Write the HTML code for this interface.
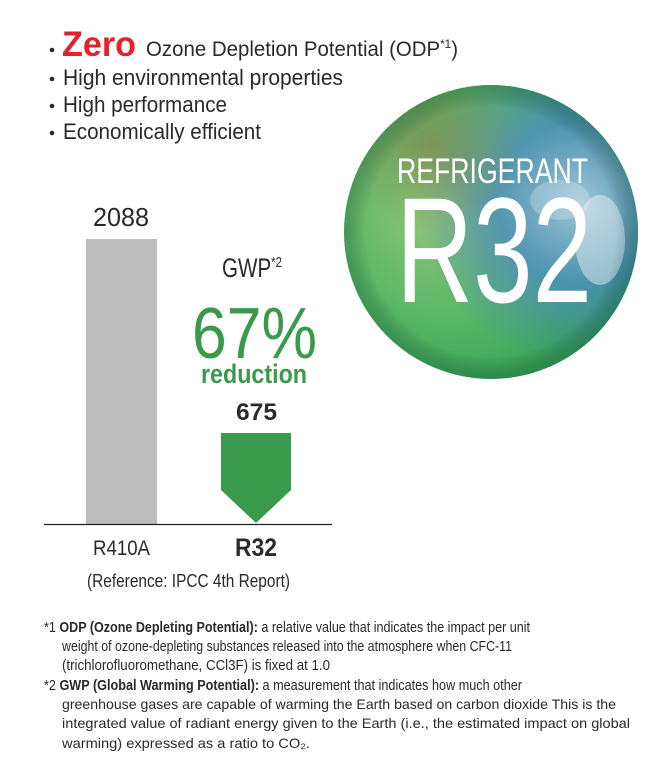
<!DOCTYPE html>
<html><head><meta charset="utf-8"><style>
html,body{margin:0;padding:0;background:#fff;}
svg{display:block}
text{font-family:"Liberation Sans Narrow","Liberation Sans",sans-serif;}
</style></head><body>
<svg width="667" height="772" viewBox="0 0 667 772" xmlns="http://www.w3.org/2000/svg">
<defs>
<radialGradient id="g1" cx="0.35" cy="0.4" r="0.75">
<stop offset="0" stop-color="#9cc87a"/>
<stop offset="0.5" stop-color="#5cb868"/>
<stop offset="1" stop-color="#2a9a50"/>
</radialGradient>
<radialGradient id="g2" cx="0.8" cy="0.4" r="0.55">
<stop offset="0" stop-color="#a8c8e0" stop-opacity="0.95"/>
<stop offset="0.5" stop-color="#4a8cc0" stop-opacity="0.8"/>
<stop offset="1" stop-color="#3a80b8" stop-opacity="0"/>
</radialGradient>
<radialGradient id="g3" cx="0.3" cy="0.2" r="0.3">
<stop offset="0" stop-color="#7a8450" stop-opacity="0.7"/>
<stop offset="1" stop-color="#7a8450" stop-opacity="0"/>
</radialGradient>
<radialGradient id="g4" cx="0.5" cy="0.5" r="0.5">
<stop offset="0.85" stop-color="#000" stop-opacity="0"/>
<stop offset="1" stop-color="#0a5030" stop-opacity="0.3"/>
</radialGradient>
</defs>

<g fill="#2a2a2a">
<circle cx="52" cy="50" r="2.3"/><circle cx="52" cy="79" r="2.3"/><circle cx="52" cy="106" r="2.3"/><circle cx="52" cy="133" r="2.3"/>
</g>
<text x="62" y="56" font-size="35" font-weight="bold" fill="#e3222b" textLength="74" lengthAdjust="spacingAndGlyphs">Zero</text>
<text x="146" y="56" font-size="21" fill="#2a2a2a" textLength="312" lengthAdjust="spacingAndGlyphs">Ozone Depletion Potential (ODP<tspan font-size="12" dy="-8">*1</tspan><tspan dy="8">)</tspan></text>
<text x="63" y="85" font-size="22" fill="#2a2a2a" textLength="280" lengthAdjust="spacingAndGlyphs">High environmental properties</text>
<text x="63" y="112" font-size="22" fill="#2a2a2a" textLength="164" lengthAdjust="spacingAndGlyphs">High performance</text>
<text x="63" y="139" font-size="22" fill="#2a2a2a" textLength="198" lengthAdjust="spacingAndGlyphs">Economically efficient</text>

<circle cx="491" cy="232" r="147" fill="url(#g1)"/>
<circle cx="491" cy="232" r="147" fill="url(#g2)"/>
<circle cx="491" cy="232" r="147" fill="url(#g3)"/>
<ellipse cx="600" cy="240" rx="25" ry="45" fill="#e8f0f6" opacity="0.5"/>
<ellipse cx="560" cy="200" rx="30" ry="20" fill="#dfeaf2" opacity="0.3"/>
<circle cx="491" cy="232" r="147" fill="url(#g4)"/>
<text x="397" y="183" font-size="35" fill="#fff" textLength="191" lengthAdjust="spacingAndGlyphs">REFRIGERANT</text>
<text x="396" y="302" font-size="150" fill="#fff" textLength="196" lengthAdjust="spacingAndGlyphs">R32</text>

<rect x="86" y="239" width="71" height="285" fill="#bdbdbd"/>
<polygon points="221,433 291,433 291,490 256,523 221,490" fill="#389a4a"/>
<line x1="44" y1="524.5" x2="332" y2="524.5" stroke="#222" stroke-width="1.2"/>
<text x="93" y="226" font-size="26" fill="#2a2a2a" textLength="56" lengthAdjust="spacingAndGlyphs">2088</text>
<text x="222" y="277" font-size="27" fill="#2a2a2a" textLength="60" lengthAdjust="spacingAndGlyphs">GWP<tspan font-size="15" dy="-10">*2</tspan></text>
<text x="192" y="358" font-size="72" fill="#389a4a" textLength="125" lengthAdjust="spacingAndGlyphs">67%</text>
<text x="201" y="383" font-size="27" font-weight="bold" fill="#389a4a" textLength="106" lengthAdjust="spacingAndGlyphs">reduction</text>
<text x="236" y="420" font-size="24" font-weight="bold" fill="#2a2a2a" textLength="41" lengthAdjust="spacingAndGlyphs">675</text>
<text x="93" y="555" font-size="21" fill="#2a2a2a" textLength="57" lengthAdjust="spacingAndGlyphs">R410A</text>
<text x="235" y="556" font-size="25" font-weight="bold" fill="#2a2a2a" textLength="42" lengthAdjust="spacingAndGlyphs">R32</text>
<text x="87" y="587" font-size="18" fill="#2a2a2a" textLength="203" lengthAdjust="spacingAndGlyphs">(Reference: IPCC 4th Report)</text>

<g font-size="15" fill="#2a2a2a">
<text x="44" y="632" textLength="486" lengthAdjust="spacingAndGlyphs">*1 <tspan font-weight="bold">ODP (Ozone Depleting Potential):</tspan> a relative value that indicates the impact per unit</text>
<text x="62" y="651" textLength="450" lengthAdjust="spacingAndGlyphs">weight of ozone-depleting substances released into the atmosphere when CFC-11</text>
<text x="62" y="670" textLength="268" lengthAdjust="spacingAndGlyphs">(trichlorofluoromethane, CCl3F) is fixed at 1.0</text>
<text x="44" y="690" textLength="478" lengthAdjust="spacingAndGlyphs">*2 <tspan font-weight="bold">GWP (Global Warming Potential):</tspan> a measurement that indicates how much other</text>
<text x="62" y="709" font-size="14" textLength="554" lengthAdjust="spacingAndGlyphs">greenhouse gases are capable of warming the Earth based on carbon dioxide This is the</text>
<text x="62" y="728" font-size="14" textLength="568" lengthAdjust="spacingAndGlyphs">integrated value of radiant energy given to the Earth (i.e., the estimated impact on global</text>
<text x="62" y="748" font-size="14" textLength="248" lengthAdjust="spacingAndGlyphs">warming) expressed as a ratio to CO₂.</text>
</g>
</svg>
</body></html>
